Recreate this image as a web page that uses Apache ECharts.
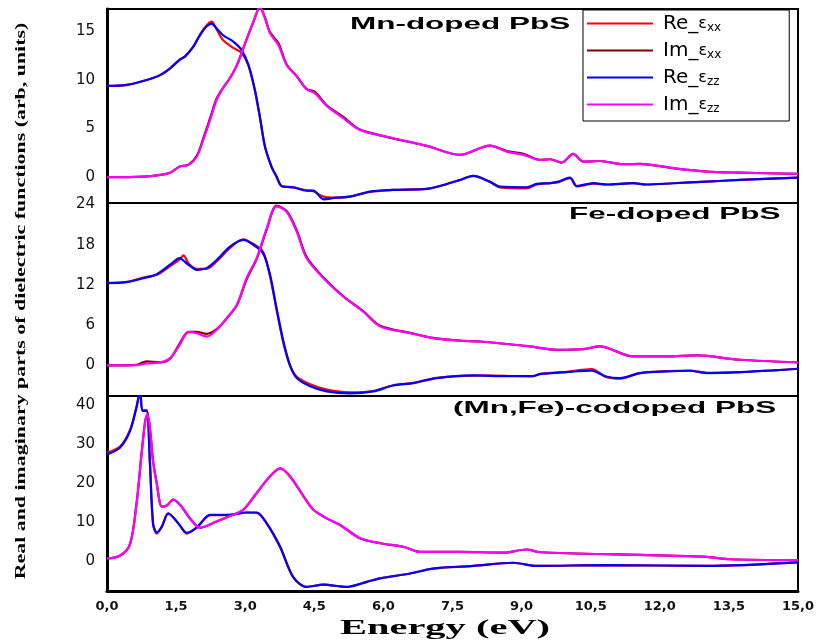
<!DOCTYPE html>
<html>
<head>
<meta charset="utf-8">
<script src="https://cdn.jsdelivr.net/npm/echarts@6/dist/echarts.min.js"></script>
<style>
    html, body { margin: 0; padding: 0; background: #fff; }
    #chart { width: 818px; height: 641px; }
</style>
</head>
<body>
<div id="chart"></div>
<script>
// x axis (eV)
const xTicks = [0, 1.5, 3, 4.5, 6, 7.5, 9, 10.5, 12, 13.5, 15];
const xTickLabels = ['0,0', '1,5', '3,0', '4,5', '6,0', '7,5', '9,0', '10,5', '12,0', '13,5', '15,0'];

const seriesNames = ['Re_εxx', 'Im_εxx', 'Re_εzz', 'Im_εzz'];
const seriesColors = ['#ff0000', '#800000', '#0000ff', '#ff00ff'];
const panelTitles = ['Mn-doped PbS', 'Fe-doped PbS', '(Mn,Fe)-codoped PbS'];

const yTicksMn = [0, 5, 10, 15];
const yTicksFe = [0, 6, 12, 18, 24];
const yTicksCo = [0, 10, 20, 30, 40];

// Mn-doped PbS
const mnReEnergy = [0, 0.43, 0.86, 1.15, 1.37, 1.58, 1.69, 1.87, 2.02, 2.16, 2.27, 2.38, 2.52, 2.74, 2.92, 3.07, 3.21, 3.32, 3.43, 3.57, 3.68, 3.79, 4.04, 4.33, 4.48, 4.7, 4.98, 5.27, 5.71, 6.21, 6.94, 7.23, 7.66, 7.95, 8.31, 8.53, 9.11, 9.33, 9.62, 9.8, 10.05, 10.2, 10.56, 10.85, 11.42, 11.71, 12.29, 13.02, 13.74, 15];
const mnReXX = [9.39, 9.5, 10.0, 10.5, 11.2, 12.1, 12.4, 13.4, 14.7, 15.6, 16.0, 15.2, 14.1, 13.3, 12.8, 11.5, 8.9, 6.1, 3.1, 1.1, 0.1, -0.9, -1.05, -1.35, -1.45, -2.0, -2.1, -2.0, -1.5, -1.3, -1.2, -0.9, -0.3, 0.13, -0.5, -1.05, -1.15, -0.75, -0.6, -0.5, -0.1, -0.95, -0.65, -0.75, -0.6, -0.75, -0.62, -0.45, -0.28, -0.04];
const mnReZZ = [9.39, 9.5, 10.0, 10.5, 11.2, 12.1, 12.4, 13.4, 14.6, 15.5, 15.8, 15.3, 14.6, 13.95, 13.1, 11.55, 9.0, 6.2, 3.15, 1.1, 0.06, -0.9, -1.03, -1.38, -1.38, -2.27, -2.1, -2.0, -1.48, -1.31, -1.2, -0.9, -0.28, 0.13, -0.45, -0.97, -1.03, -0.69, -0.6, -0.45, -0.04, -0.9, -0.6, -0.75, -0.6, -0.75, -0.62, -0.45, -0.28, -0.04];
const mnImEnergy = [0, 0.79, 1.15, 1.37, 1.58, 1.77, 1.95, 2.09, 2.24, 2.38, 2.52, 2.67, 2.82, 3.0, 3.18, 3.32, 3.43, 3.54, 3.72, 3.9, 4.12, 4.33, 4.51, 4.77, 5.13, 5.49, 6.21, 6.94, 7.66, 8.31, 8.68, 9.04, 9.4, 9.62, 9.87, 10.12, 10.34, 10.7, 11.21, 11.57, 12.29, 13.02, 13.74, 15];
const mnImXX = [0, 0.06, 0.24, 0.47, 1.1, 1.3, 2.2, 4.0, 6.1, 8.1, 9.2, 10.2, 11.5, 13.8, 16.0, 17.5, 16.4, 14.9, 13.8, 11.6, 10.4, 9.1, 8.8, 7.4, 6.2, 4.9, 4.0, 3.22, 2.3, 3.25, 2.7, 2.4, 1.78, 1.85, 1.5, 2.4, 1.6, 1.67, 1.34, 1.37, 0.93, 0.58, 0.47, 0.34];
const mnImZZ = [0, 0.06, 0.24, 0.47, 1.1, 1.27, 2.1, 3.84, 5.9, 7.95, 9.16, 10.2, 11.55, 13.8, 16.0, 17.5, 16.35, 14.8, 13.6, 11.55, 10.35, 9.05, 8.64, 7.34, 6.07, 4.87, 4.01, 3.22, 2.3, 3.25, 2.63, 2.3, 1.78, 1.85, 1.5, 2.4, 1.6, 1.67, 1.34, 1.37, 0.93, 0.58, 0.47, 0.34];

// Fe-doped PbS
const feReEnergy = [0, 0.43, 0.79, 1.08, 1.37, 1.58, 1.66, 1.77, 1.95, 2.16, 2.38, 2.67, 2.96, 3.18, 3.39, 3.54, 3.68, 3.83, 3.97, 4.12, 4.41, 4.77, 5.27, 5.78, 6.21, 6.65, 7.16, 7.95, 8.68, 9.25, 9.4, 9.98, 10.52, 10.83, 11.14, 11.57, 12.15, 12.65, 13.02, 13.74, 14.46, 15];
const feReXX = [12.3, 12.45, 13.1, 13.5, 14.8, 15.8, 16.4, 15.2, 14.4, 14.4, 15.5, 17.5, 18.8, 18.1, 16.9, 13.2, 8.3, 3.3, 0.0, -1.7, -2.8, -3.6, -4.0, -3.8, -2.95, -2.6, -1.85, -1.5, -1.55, -1.6, -1.25, -0.95, -0.55, -1.7, -1.95, -1.15, -0.85, -0.75, -1.1, -1.0, -0.74, -0.49];
const feReZZ = [12.26, 12.4, 13.0, 13.6, 15.0, 16.0, 15.6, 15.0, 14.25, 14.5, 15.7, 17.7, 18.7, 17.96, 16.7, 13.5, 8.54, 3.57, 0.1, -1.88, -3.1, -3.87, -4.17, -3.87, -2.98, -2.62, -1.88, -1.49, -1.59, -1.59, -1.28, -0.98, -0.79, -1.64, -1.88, -1.13, -0.89, -0.79, -1.13, -1.0, -0.74, -0.49];
const feImEnergy = [0, 0.64, 0.86, 1.15, 1.37, 1.58, 1.77, 1.95, 2.16, 2.38, 2.6, 2.82, 3.03, 3.25, 3.47, 3.68, 3.9, 4.12, 4.33, 4.7, 5.13, 5.56, 5.93, 6.58, 7.08, 7.66, 8.1, 9.18, 9.76, 10.34, 10.7, 11.42, 12.15, 12.8, 13.74, 15];
const feImXX = [0, 0.1, 0.6, 0.45, 1.0, 3.3, 5.0, 5.0, 4.7, 5.4, 7.0, 9.0, 12.8, 15.9, 20.3, 23.8, 23.0, 20.1, 16.2, 13.1, 10.3, 8.1, 5.9, 4.85, 4.1, 3.7, 3.57, 2.83, 2.34, 2.44, 2.85, 1.34, 1.34, 1.49, 0.85, 0.45];
const feImZZ = [0, 0.05, 0.3, 0.45, 1.1, 3.08, 4.97, 4.8, 4.3, 5.3, 7.05, 9.03, 13.0, 16.0, 20.45, 23.7, 22.9, 19.9, 16.0, 13.0, 10.27, 8.04, 5.8, 4.82, 4.08, 3.68, 3.57, 2.83, 2.34, 2.44, 2.83, 1.34, 1.34, 1.49, 0.85, 0.45];

// (Mn,Fe)-codoped PbS
const coReEnergy = [0, 0.28, 0.5, 0.64, 0.72, 0.77, 0.86, 0.93, 1.0, 1.08, 1.19, 1.33, 1.55, 1.73, 1.95, 2.24, 2.67, 3.03, 3.25, 3.47, 3.76, 4.04, 4.33, 4.7, 5.2, 5.64, 5.93, 6.58, 7.01, 7.23, 7.95, 8.82, 9.33, 10.85, 13.02, 15];
const coReXX = [27.7, 29.3, 33.6, 39.6, 43.5, 38.6, 38.7, 25.8, 9.6, 7.0, 8.7, 12.1, 9.6, 7.0, 8.5, 11.7, 11.8, 12.4, 12.3, 9.5, 3.4, -4.2, -6.7, -6.1, -6.7, -5.4, -4.5, -3.25, -2.1, -1.8, -1.3, -0.5, -1.3, -1.1, -1.3, -0.4];
const coReZZ = [27.3, 29.0, 33.3, 39.3, 43.5, 38.5, 38.5, 25.5, 9.5, 7.3, 8.8, 12.2, 9.6, 7.2, 8.6, 11.8, 11.8, 12.4, 12.4, 9.6, 3.6, -4.1, -6.7, -6.1, -6.7, -5.4, -4.5, -3.25, -2.14, -1.8, -1.3, -0.5, -1.3, -1.1, -1.3, -0.4];
const coImEnergy = [0, 0.28, 0.5, 0.64, 0.75, 0.83, 0.88, 0.93, 1.0, 1.08, 1.19, 1.3, 1.44, 1.62, 1.8, 2.02, 2.38, 2.67, 2.96, 3.25, 3.54, 3.76, 3.97, 4.27, 4.48, 4.77, 5.06, 5.49, 5.93, 6.43, 6.79, 7.66, 8.6, 9.11, 9.4, 11.57, 13.02, 13.52, 15];
const coImXX = [0.6, 1.3, 4.3, 14.6, 27.5, 36.0, 37.6, 34.4, 25.7, 19.9, 13.9, 14.2, 15.7, 13.9, 10.9, 8.5, 10.1, 11.5, 13.1, 17.4, 21.7, 23.7, 21.7, 16.5, 13.1, 10.9, 9.2, 5.8, 4.5, 3.6, 2.3, 2.3, 2.1, 2.9, 2.2, 1.5, 1.0, 0.4, 0.2];
const coImZZ = [0.6, 1.3, 4.2, 14.4, 27.3, 35.9, 37.6, 34.2, 25.5, 19.8, 13.9, 14.2, 15.7, 13.9, 10.9, 8.5, 10.1, 11.5, 13.1, 17.4, 21.7, 23.7, 21.7, 16.5, 13.1, 10.9, 9.2, 5.8, 4.5, 3.6, 2.3, 2.3, 2.1, 2.9, 2.2, 1.5, 1.0, 0.4, 0.2];

const panels = [
    { ticks: yTicksMn, min: -2.65, max: 17.3, top: 9, height: 194,
      curves: [[mnReEnergy, mnReXX], [mnImEnergy, mnImXX], [mnReEnergy, mnReZZ], [mnImEnergy, mnImZZ]] },
    { ticks: yTicksFe, min: -4.55, max: 24.2, top: 203, height: 193,
      curves: [[feReEnergy, feReXX], [feImEnergy, feImXX], [feReEnergy, feReZZ], [feImEnergy, feImZZ]] },
    { ticks: yTicksCo, min: -7.75, max: 42.3, top: 396, height: 195,
      curves: [[coReEnergy, coReXX], [coImEnergy, coImXX], [coReEnergy, coReZZ], [coImEnergy, coImZZ]] }
];

function pairs(xs, ys) {
    return xs.map((x, i) => [x, ys[i]]);
}

const chart = echarts.init(document.getElementById('chart'), null, { renderer: 'canvas' });

const grids = [];
const xAxes = [];
const yAxes = [];
const series = [];

panels.forEach((p, i) => {
    const last = i === panels.length - 1;
    grids.push({
        left: 107, right: 20, top: p.top, height: p.height,
        show: true, borderColor: '#000', borderWidth: 2, backgroundColor: 'transparent'
    });
    xAxes.push({
        type: 'value', gridIndex: i, min: 0, max: 15, interval: 1.5,
        axisLine: { show: last, onZero: false, lineStyle: { color: '#000', width: 3 } },
        axisTick: { show: false },
        splitLine: { show: false },
        axisLabel: {
            show: last, margin: 9,
            color: '#111', fontFamily: 'DejaVu Sans', fontWeight: 'bold', fontSize: 13,
            formatter: (v) => xTickLabels[Math.round(v / 1.5)]
        }
    });
    yAxes.push({
        type: 'value', gridIndex: i, min: p.min, max: p.max,
        axisLine: { show: true, onZero: false, lineStyle: { color: '#000', width: 3 } },
        axisTick: { show: false },
        splitLine: { show: false },
        axisLabel: {
            customValues: p.ticks, margin: 12,
            color: '#111', fontFamily: 'DejaVu Sans', fontSize: 15
        }
    });
    p.curves.forEach((c, k) => {
        series.push({
            name: seriesNames[k],
            type: 'line',
            xAxisIndex: i, yAxisIndex: i,
            data: pairs(c[0], c[1]),
            smooth: 0.3,
            symbol: 'none',
            color: seriesColors[k],
            lineStyle: { color: seriesColors[k], width: 2.2 },
            silent: true
        });
    });
});

const titleStyle = {
    fontFamily: 'Liberation Sans', fontWeight: 'bold', fontSize: 17,
    fill: '#000', textVerticalAlign: 'middle'
};

chart.setOption({
    animation: false,
    backgroundColor: '#fff',
    grid: grids,
    xAxis: xAxes,
    yAxis: yAxes,
    legend: {
        data: seriesNames,
        orient: 'vertical',
        left: 583, top: 10,
        icon: 'rect', itemWidth: 66, itemHeight: 2,
        itemGap: 6,
        padding: [3, 68, 6, 4],
        borderColor: '#000', borderWidth: 1,
        selectedMode: false,
        formatter: (name) => `{t|${name.slice(0, 3)}}{e|ε}{s|${name.slice(4)}}`,
        textStyle: {
            rich: {
                t: { fontFamily: 'DejaVu Sans', fontSize: 20, color: '#000', lineHeight: 20, padding: [0, 0, 0, 5] },
                e: { fontFamily: 'DejaVu Sans', fontSize: 16, color: '#000', lineHeight: 20 },
                s: { fontFamily: 'DejaVu Sans', fontSize: 12, color: '#000', lineHeight: 20, padding: [9, 0, 0, 0] }
            }
        }
    },
    graphic: [
        { type: 'text', x: 350, y: 24.5, scaleX: 1.85, style: Object.assign({ text: panelTitles[0], textAlign: 'left' }, titleStyle) },
        { type: 'text', x: 569, y: 214.7, scaleX: 1.85, style: Object.assign({ text: panelTitles[1], textAlign: 'left' }, titleStyle) },
        { type: 'text', x: 453, y: 408.8, scaleX: 1.85, style: Object.assign({ text: panelTitles[2], textAlign: 'left' }, titleStyle) },
        {
            type: 'text', x: 445, y: 628, scaleX: 1.84,
            style: { text: 'Energy (eV)', fontFamily: 'Liberation Serif', fontWeight: 'bold', fontSize: 22,
                     fill: '#000', textAlign: 'center', textVerticalAlign: 'middle' }
        },
        {
            type: 'text', x: 21, y: 301, rotation: Math.PI / 2, scaleX: 1.46,
            style: { text: 'Real and imaginary parts of dielectric functions (arb, units)',
                     fontFamily: 'Liberation Serif', fontWeight: 'bold', fontSize: 15,
                     fill: '#000', textAlign: 'center', textVerticalAlign: 'middle' }
        }
    ],
    series: series
});
</script>
</body>
</html>
